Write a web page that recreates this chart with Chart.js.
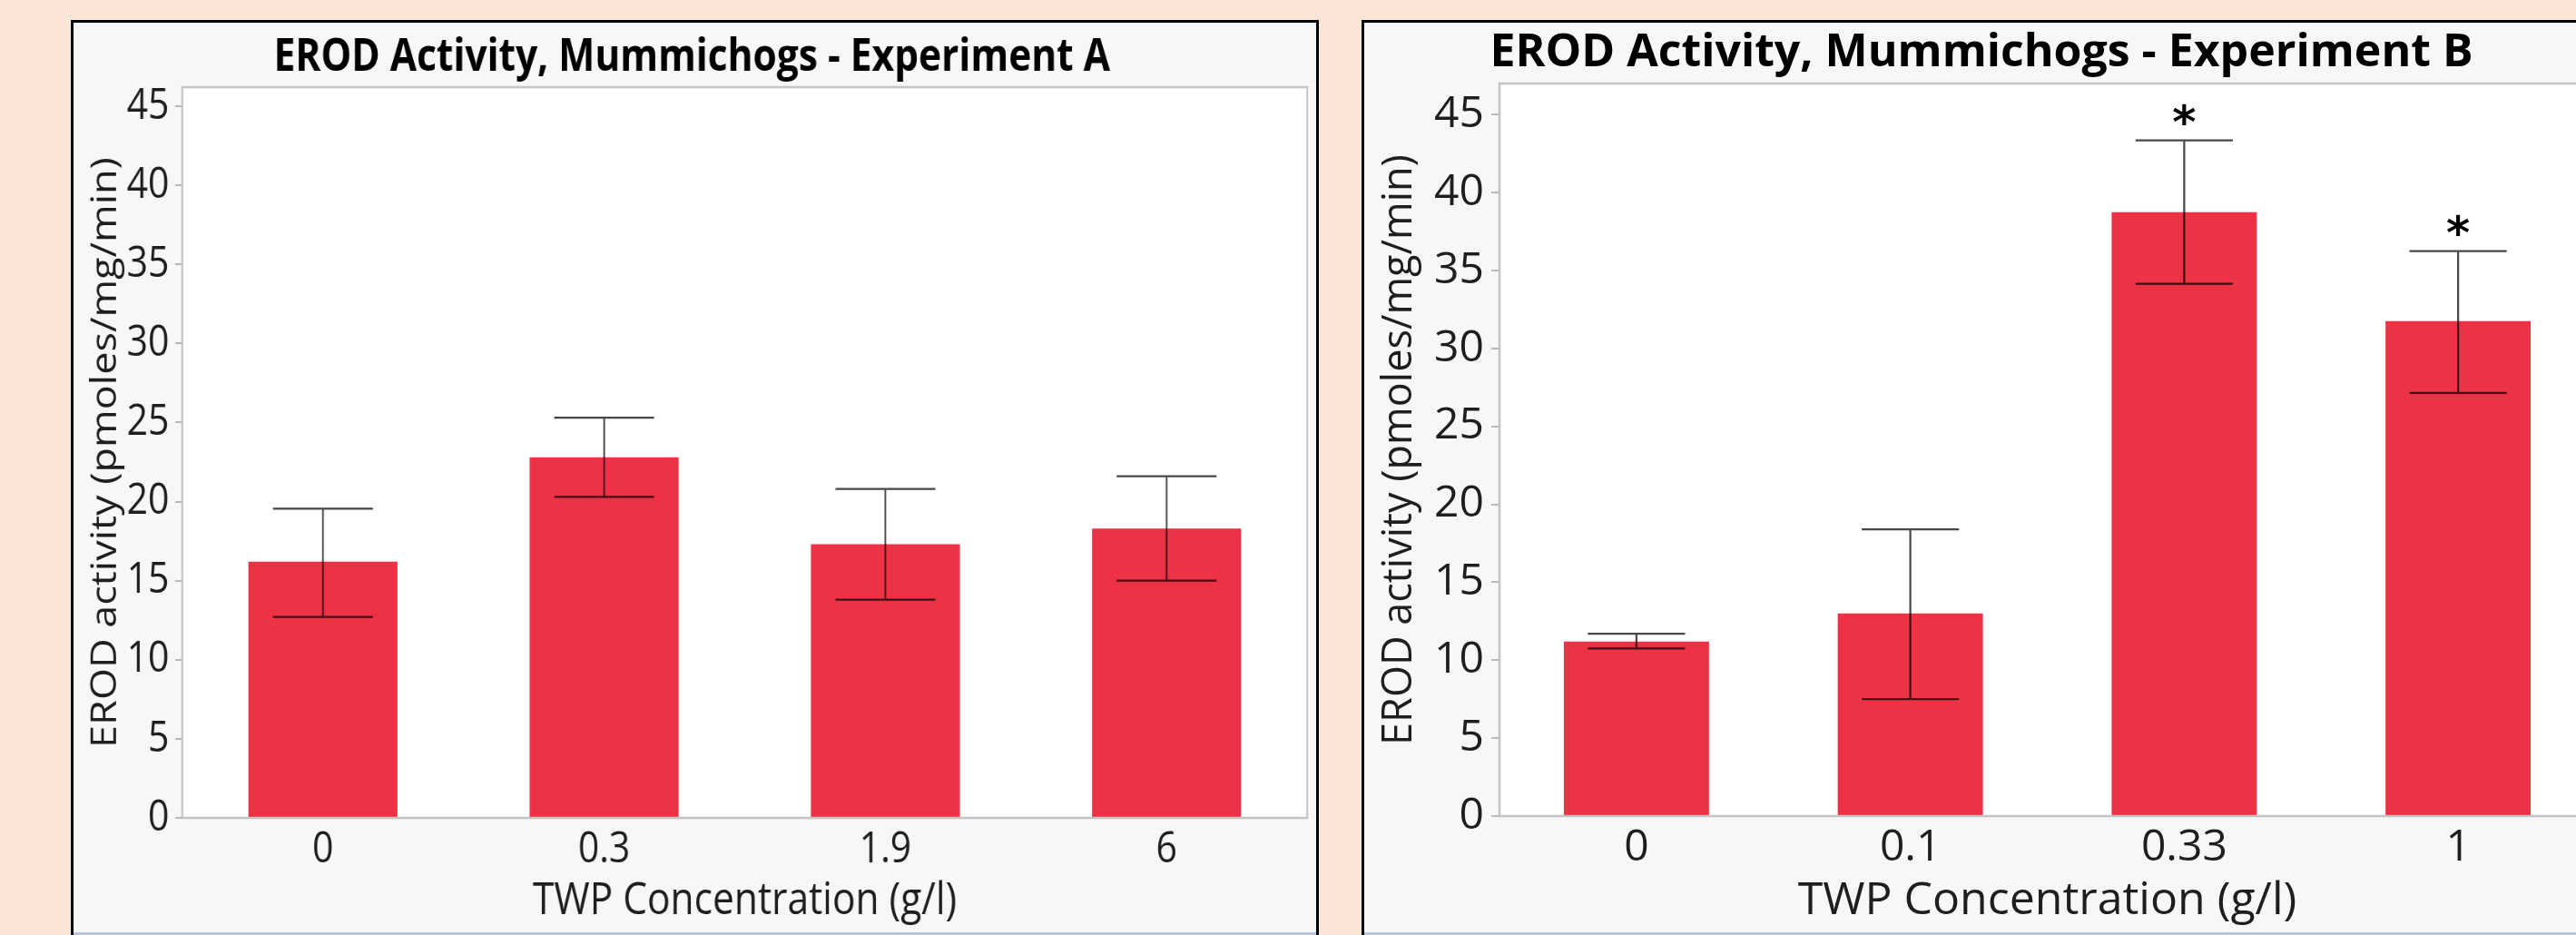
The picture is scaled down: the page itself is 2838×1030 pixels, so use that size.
<!DOCTYPE html>
<html>
<head>
<meta charset="utf-8">
<script src="https://cdn.jsdelivr.net/npm/chart.js"></script>
<style>
  html, body { margin: 0; padding: 0; }
  body { width: 2838px; height: 1030px; overflow: hidden; background: #fbe5d6; position: relative; }
  .panel { position: absolute; top: 22px; height: 1010px; border: 3px solid #000; border-bottom: none; background: #b9c7dc; overflow: hidden; }
  #panelA { left: 78px; width: 1369px; }
  #panelB { left: 1500px; width: 1370px; }
  canvas { display: block; }
  #chartA { transform: scaleX(0.85); transform-origin: 0 0; }
</style>
</head>
<body>
<div class="panel" id="panelA"><canvas id="chartA" width="1611" height="1002"></canvas></div>
<div class="panel" id="panelB"><canvas id="chartB" width="1370" height="1002"></canvas></div>
<script>
// Experiment A
const labelsA = ['0', '0.3', '1.9', '6'];
const meanA = [16.2, 22.8, 17.3, 18.3];
const upperA = [19.55, 25.3, 20.8, 21.6];
const lowerA = [12.7, 20.3, 13.8, 15.0];
const starsA = ['', '', '', ''];

// Experiment B
const labelsB = ['0', '0.1', '0.33', '1'];
const meanB = [11.2, 13.0, 38.75, 31.75];
const upperB = [11.7, 18.4, 43.35, 36.25];
const lowerB = [10.75, 7.5, 34.15, 27.15];
const starsB = ['', '', '*', '*'];

const yTicks = [0, 5, 10, 15, 20, 25, 30, 35, 40, 45];

Chart.defaults.font.family = '"Open Sans"';

// plot background, error bars, significance marks and plot frame
const errorBars = {
  id: 'errorBars',
  beforeDraw(chart) {
    const { ctx, chartArea: a } = chart;
    ctx.save();
    ctx.fillStyle = '#f7f7f7';
    ctx.fillRect(0, 0, chart.width, chart.height);
    ctx.fillStyle = '#ffffff';
    ctx.fillRect(a.left, a.top, a.right - a.left, a.bottom - a.top);
    ctx.restore();
  },
  afterDatasetsDraw(chart, args, opts) {
    const { ctx, chartArea: a } = chart;
    const y = chart.scales.y;
    const bars = chart.getDatasetMeta(0).data;
    ctx.save();
    ctx.strokeStyle = 'rgba(0,0,0,0.72)';
    ctx.lineWidth = 2.2;
    bars.forEach((bar, i) => {
      const hi = y.getPixelForValue(opts.upper[i]);
      const lo = y.getPixelForValue(opts.lower[i]);
      const half = bar.width * 0.335;
      ctx.beginPath();
      ctx.moveTo(bar.x, hi); ctx.lineTo(bar.x, lo);
      ctx.moveTo(bar.x - half, hi); ctx.lineTo(bar.x + half, hi);
      ctx.moveTo(bar.x - half, lo); ctx.lineTo(bar.x + half, lo);
      ctx.stroke();
      if (opts.stars[i]) {
        ctx.font = 'bold 50px "DejaVu Sans"';
        ctx.fillStyle = '#000';
        ctx.textAlign = 'center';
        ctx.textBaseline = 'alphabetic';
        const m = ctx.measureText(opts.stars[i]);
        const cy = hi - 29;
        ctx.fillText(opts.stars[i], bar.x, cy + (m.actualBoundingBoxAscent - m.actualBoundingBoxDescent) / 2);
      }
    });
    ctx.strokeStyle = '#c4c4c4';
    ctx.lineWidth = 2.5;
    ctx.strokeRect(a.left, a.top, a.right - a.left, a.bottom - a.top);
    ctx.restore();
  }
};

function makeChart(id, cfg) {
  return new Chart(document.getElementById(id), {
    type: 'bar',
    data: {
      labels: cfg.labels,
      datasets: [{
        data: cfg.means,
        backgroundColor: '#ed3246',
        barPercentage: 0.53,
        categoryPercentage: 1
      }]
    },
    options: {
      responsive: false,
      animation: false,
      devicePixelRatio: 1,
      layout: { padding: { left: 4, right: cfg.padRight, top: 0, bottom: 5 } },
      plugins: {
        legend: { display: false },
        tooltip: { enabled: false },
        title: {
          display: true,
          text: cfg.title,
          color: '#000',
          font: { size: cfg.titleSize, weight: 'bold' },
          padding: cfg.titlePad
        },
        errorBars: { upper: cfg.upper, lower: cfg.lower, stars: cfg.stars }
      },
      scales: {
        x: {
          grid: { display: false, drawTicks: false },
          border: { display: false },
          ticks: { color: '#1e1e1e', font: { size: 48 }, padding: 7 },
          title: {
            display: true,
            text: 'TWP Concentration (g/l)',
            color: '#1e1e1e',
            font: { size: 50 },
            padding: { top: 0, bottom: -1 }
          },
          afterFit: s => { s.height = cfg.xHeight; }
        },
        y: {
          min: 0,
          max: cfg.yMax,
          grid: { drawOnChartArea: false, drawTicks: true, tickLength: 9, color: '#b8b8b8', lineWidth: 2 },
          border: { display: false },
          ticks: { color: '#1e1e1e', font: { size: 48 }, padding: 8 },
          afterBuildTicks: ax => { ax.ticks = yTicks.map(v => ({ value: v })); },
          title: {
            display: true,
            text: 'EROD activity (pmoles/mg/min)',
            color: '#1e1e1e',
            font: { size: 45 },
            padding: { top: cfg.yTitlePad, bottom: 0 }
          },
          afterFit: s => { s.width = cfg.yWidth; }
        }
      }
    },
    plugins: [errorBars]
  });
}

makeChart('chartA', {
  labels: labelsA, means: meanA, upper: upperA, lower: lowerA, stars: starsA,
  title: 'EROD Activity, Mummichogs - Experiment A',
  titleSize: 50, titlePad: { top: 9, bottom: 2 },
  yMax: 46.2, yWidth: 137, yTitlePad: 11, xHeight: 121, padRight: 12
});

makeChart('chartB', {
  labels: labelsB, means: meanB, upper: upperB, lower: lowerB, stars: starsB,
  title: 'EROD Activity, Mummichogs - Experiment B',
  titleSize: 50, titlePad: { top: 4, bottom: 3 },
  yMax: 47, yWidth: 145, yTitlePad: 8, xHeight: 123, padRight: 14
});
</script>
</body>
</html>
